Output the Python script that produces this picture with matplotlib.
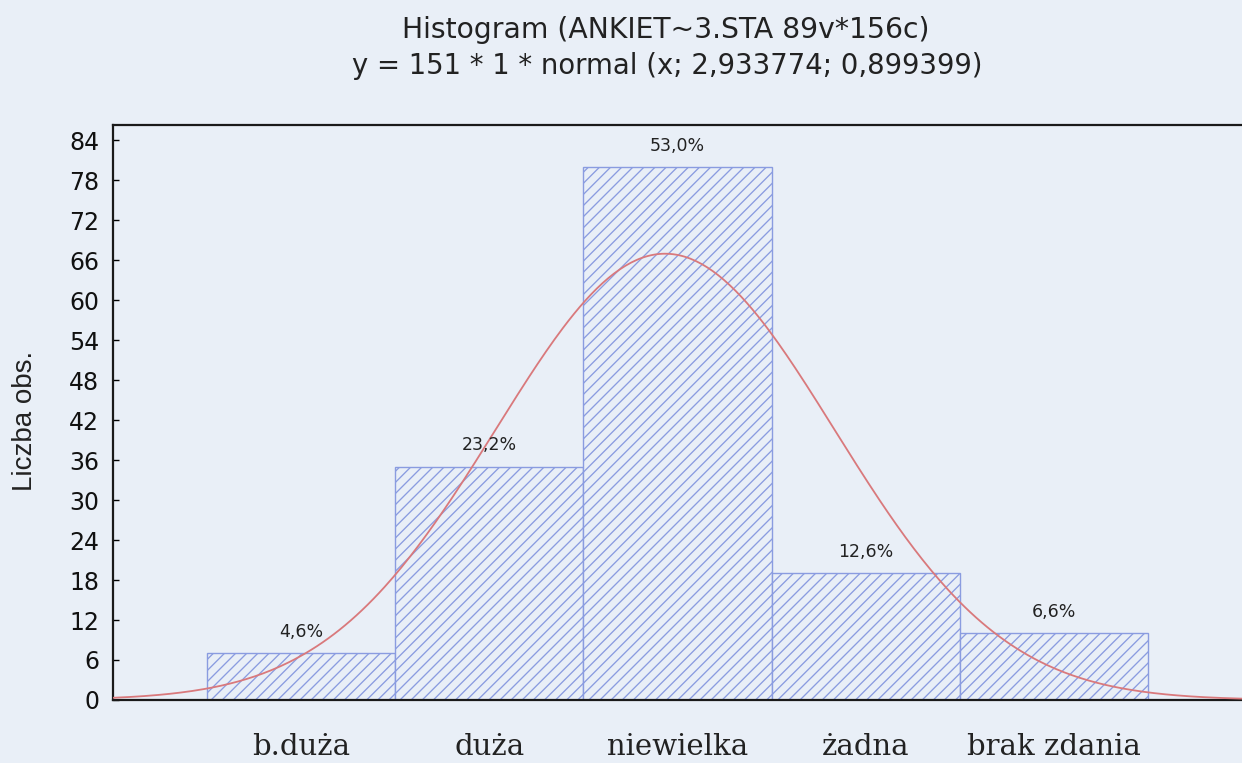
import numpy as np
import matplotlib
matplotlib.use("Agg")
import matplotlib.pyplot as plt

# dane z histogramu
kategorie = ["b.duża", "duża", "niewielka", "żadna", "brak zdania"]
liczba_obs = [7, 35, 80, 19, 10]
procenty = ["4,6%", "23,2%", "53,0%", "12,6%", "6,6%"]
n_obs = 151
srednia = 2.933774
odch_std = 0.899399

tlo = "#e9eff7"

plt.rcParams['font.family'] = ['DejaVu Sans']
plt.rcParams['hatch.color'] = '#8898dc'
plt.rcParams['hatch.linewidth'] = 0.95

fig = plt.figure(figsize=(12.42, 7.63), dpi=100, facecolor=tlo)
ax = fig.add_axes([0.091, 0.0826, 0.909, 0.7536], facecolor=tlo)

x_poz = np.arange(1, len(kategorie) + 1)
ax.bar(x_poz, liczba_obs, width=1.0, color=tlo, edgecolor='#8a9ce0',
       hatch='///', linewidth=1.0, zorder=2)

for xp, v, p in zip(x_poz, liczba_obs, procenty):
    ax.text(xp, v + 3.2, p, ha='center', va='center', fontsize=12.5,
            color='#222222', zorder=4)

# krzywa normalna
xs = np.linspace(0, 6, 400)
ys = n_obs * 1 * np.exp(-0.5 * ((xs - srednia) / odch_std) ** 2) / (odch_std * np.sqrt(2 * np.pi))
ax.plot(xs, ys, color='#d9797c', linewidth=1.3, zorder=3)

ax.set_xlim(0, 6)
ax.set_ylim(0, 86.3)
ax.set_yticks(np.arange(0, 85, 6))
ax.set_xticks(x_poz)
ax.set_xticklabels(kategorie, family=['DejaVu Serif'], fontsize=21, color='#222222')
ax.tick_params(axis='x', length=0, pad=24)
ax.tick_params(axis='y', direction='in', length=4, width=1, labelsize=17, pad=10,
               labelcolor='#111111')

for s in ['left', 'top', 'bottom']:
    ax.spines[s].set_linewidth(1.6)
    ax.spines[s].set_color('#1a1a1a')
ax.spines['right'].set_visible(False)

fig.text(0.0201, 0.448, "Liczba obs.", rotation=90, ha='center', va='center',
         fontsize=20, family=['Liberation Sans'], color='#222222')

fig.text(0.536, 0.961, "Histogram (ANKIET~3.STA 89v*156c)", ha='center', va='center',
         fontsize=20.3, color='#222222')
fig.text(0.537, 0.913, "y = 151 * 1 * normal (x; 2,933774; 0,899399)", ha='center',
         va='center', fontsize=19.8, color='#222222')

fig.savefig("out.png", dpi=100, facecolor=tlo)
